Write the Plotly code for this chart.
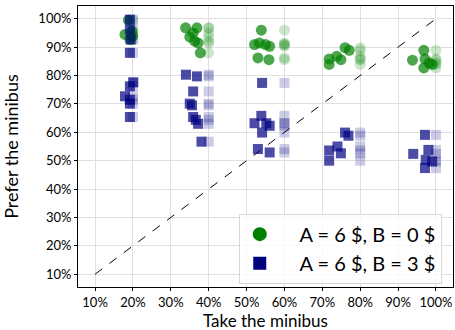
import plotly.graph_objects as go

# Condition A = 6$, B = 0$ (green circles)
g_nominal = [20]*5 + [40]*7 + [60]*7 + [80]*6 + [100]*6
g_x = [18.8, 19.7, 17.9, 19.2, 19.9,
       33.9, 36.9, 35.0, 35.9, 36.3, 37.2, 37.8,
       53.9, 52.1, 53.4, 55.0, 56.1, 53.0, 55.9,
       76.0, 77.1, 73.8, 74.9, 71.8, 71.8,
       96.8, 93.8, 97.1, 98.2, 96.8, 99.0]
g_y = [99.5, 95.6, 94.5, 92.7, 93.9,
       96.8, 96.8, 93.6, 95.0, 92.1, 91.5, 88.0,
       96.0, 90.9, 91.5, 90.9, 90.3, 86.2, 85.6,
       89.8, 88.9, 86.8, 85.6, 85.8, 83.9,
       88.9, 85.4, 85.8, 84.4, 82.7, 83.9]

# Condition A = 6$, B = 3$ (blue squares)
b_nominal = [20]*10 + [40]*9 + [60]*8 + [80]*6 + [100]*6
b_x = [19.2, 19.2, 19.4, 19.2, 20.1, 19.2, 17.9, 19.2, 19.2, 19.2,
       34.0, 36.9, 35.9, 35.0, 35.6, 35.9, 36.6, 37.2, 38.1,
       54.1, 53.9, 52.1, 55.2, 56.1, 54.1, 53.0, 56.1,
       76.0, 76.9, 71.8, 74.0, 74.9, 71.8,
       97.1, 94.0, 98.0, 97.3, 99.0, 97.1]
b_y = [99.7, 96.2, 92.7, 88.0, 77.6, 76.2, 72.7, 71.5, 70.1, 65.4,
       80.3, 79.7, 74.4, 70.1, 69.5, 65.4, 64.4, 63.0, 56.7,
       77.4, 65.8, 63.2, 63.2, 62.3, 59.9, 54.1, 52.9,
       59.9, 58.8, 53.6, 55.0, 52.6, 50.0,
       59.1, 52.4, 53.8, 50.3, 49.7, 47.4]

diag = [10, 100]
ticks = [10, 20, 30, 40, 50, 60, 70, 80, 90, 100]
tick_labels = [f"{t}%" for t in ticks]
legend_names = ["A = 6 $, B = 0 $", "A = 6 $, B = 3 $"]
x_title = "Take the minibus"
y_title = "Prefer the minibus"

GREEN = "#008000"
NAVY = "#000080"
FONT = "Lato"
PAD = "\u00a0" * 4

fig = go.Figure()
fig.add_trace(go.Scatter(x=diag, y=diag, mode="lines",
                         line=dict(color="black", width=1, dash="dash"),
                         showlegend=False, hoverinfo="skip"))
# faded points at nominal x
fig.add_trace(go.Scatter(x=g_nominal, y=g_y, mode="markers", showlegend=False,
                         marker=dict(symbol="circle", size=11, color=GREEN, opacity=0.2,
                                     line=dict(width=0))))
fig.add_trace(go.Scatter(x=b_nominal, y=b_y, mode="markers", showlegend=False,
                         marker=dict(symbol="square", size=10, color=NAVY, opacity=0.2,
                                     line=dict(width=0))))
# jittered points
fig.add_trace(go.Scatter(x=g_x, y=g_y, mode="markers", showlegend=False,
                         marker=dict(symbol="circle", size=11, color=GREEN, opacity=0.7,
                                     line=dict(width=0))))
fig.add_trace(go.Scatter(x=b_x, y=b_y, mode="markers", showlegend=False,
                         marker=dict(symbol="square", size=10, color=NAVY, opacity=0.7,
                                     line=dict(width=0))))
# legend entries
fig.add_trace(go.Scatter(x=[None], y=[None], mode="markers", name=PAD + legend_names[0],
                         marker=dict(symbol="circle", size=14, color=GREEN)))
fig.add_trace(go.Scatter(x=[None], y=[None], mode="markers", name=PAD + legend_names[1],
                         marker=dict(symbol="square", size=13, color=NAVY)))

axis_common = dict(range=[5.5, 104.5], tickvals=ticks, ticktext=tick_labels,
                   showgrid=True, gridcolor="#e0e0e0", gridwidth=1,
                   showline=True, linecolor="black", linewidth=1, mirror=True,
                   ticks="outside", ticklen=3, tickcolor="black",
                   tickfont=dict(family=FONT, size=13, color="black"),
                   zeroline=False, automargin=False)

fig.update_layout(
    width=455, height=330,
    margin=dict(l=78, r=2, t=6, b=43),
    paper_bgcolor="white", plot_bgcolor="white",
    font=dict(family=FONT, color="black"),
    xaxis=dict(**axis_common),
    yaxis=dict(**axis_common, title=dict(text=y_title, font=dict(size=18))),
    legend=dict(x=0.97, y=0.012, xanchor="right", yanchor="bottom",
                bgcolor="rgba(255,255,255,0.8)", bordercolor="#d8d8d8", borderwidth=1,
                font=dict(family=FONT, size=20), itemwidth=30),
    showlegend=True,
    annotations=[dict(text=x_title, xref="paper", yref="paper", x=0.5, y=-0.118,
                      xanchor="center", yanchor="middle", showarrow=False,
                      font=dict(family=FONT, size=17, color="black"))],
)

fig.write_html("out.html", config={"displayModeBar": False},
               post_script="document.body.style.margin='0';document.body.style.padding='0';")
